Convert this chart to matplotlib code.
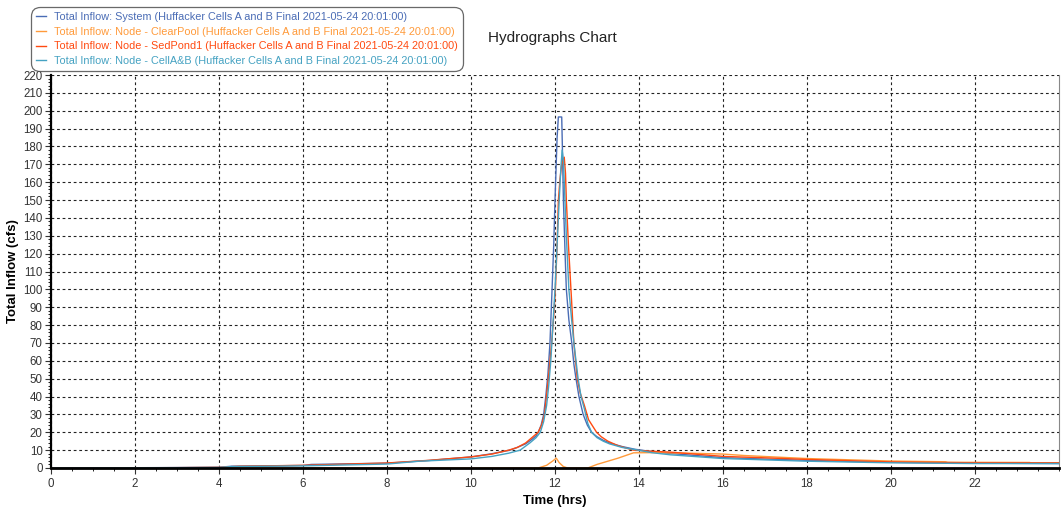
import matplotlib
matplotlib.use("Agg")
import matplotlib.pyplot as plt
from matplotlib.ticker import MultipleLocator

plt.rcParams['font.family'] = ['Liberation Sans', 'DejaVu Sans']

# ---- data ----
t_system = [0, 2.5, 4.0, 4.3, 6.0, 6.2, 8.0, 9.0, 10.0, 10.5, 10.93, 11.1, 11.3, 11.45, 11.55,
            11.6, 11.67, 11.73, 11.78, 11.83, 11.88, 11.93, 11.97, 12.0, 12.05, 12.08, 12.16,
            12.18, 12.2, 12.24, 12.27, 12.33, 12.4, 12.45, 12.5, 12.57, 12.67, 12.77, 12.87,
            13.0, 13.15, 13.3, 13.6, 13.9, 14.3, 14.7, 16, 17, 18, 19, 20, 21, 22, 24]
q_system = [0, 0.2, 0.4, 1.0, 1.4, 2.0, 2.7, 4.2, 6.2, 8.0, 10, 11.5, 13.5, 16, 18,
            20, 24, 30, 40, 52, 70, 100, 125, 150, 185, 196.5, 196.5,
            175, 150, 120, 100, 83, 70, 58, 50, 40, 30, 24, 20,
            17.5, 15.5, 14, 12, 10.5, 9.2, 8.2, 5.8, 5.0, 4.3, 3.7, 3.2, 2.9, 2.7, 2.5]

t_clearpool = [0, 11.6, 11.8, 11.95, 12.03, 12.1, 12.2, 12.3, 12.78, 13.0, 13.5, 13.87, 14.3,
               15.2, 16, 16.5, 18, 19, 20, 21.3, 21.35, 23.3, 23.35, 24]
q_clearpool = [0, 0, 1.5, 4.0, 5.5, 3.0, 0.8, 0, 0, 2.0, 5.5, 8.5, 8.6,
               8.3, 7.8, 7.0, 5.3, 4.6, 3.9, 3.5, 3.2, 3.1, 2.8, 2.8]

t_sedpond = [0, 3.0, 4.0, 4.5, 6.0, 8.0, 9.0, 10.0, 10.5, 10.9, 11.1, 11.3, 11.45, 11.6, 11.68,
             11.75, 11.82, 11.87, 11.92, 11.97, 12.01, 12.05, 12.08, 12.12, 12.16, 12.22, 12.25,
             12.27, 12.32, 12.38, 12.45, 12.53, 12.6, 12.7, 12.8, 12.99, 13.1, 13.26, 13.5, 13.86,
             14.2, 14.74, 16, 17, 18, 20, 22, 24]
q_sedpond = [0, 0.2, 0.4, 1.0, 1.5, 2.8, 4.3, 6.2, 7.8, 10, 11.5, 14, 17, 20, 24,
             30, 45, 57, 70, 85, 100, 125, 150, 162, 170, 174, 165,
             150, 125, 100, 70, 50, 42, 35, 27, 20, 17.5, 15, 12.5, 10,
             9.5, 8.9, 6.5, 5.7, 4.8, 3.4, 2.9, 2.9]

t_cellab = [0, 2.5, 4.0, 4.3, 6.0, 8.0, 8.76, 10.0, 10.5, 10.9, 11.17, 11.4, 11.55, 11.65, 11.73,
            11.8, 11.85, 11.9, 11.95, 12.0, 12.05, 12.1, 12.14, 12.17, 12.2, 12.22, 12.27, 12.33,
            12.4, 12.45, 12.55, 12.62, 12.7, 12.78, 12.87, 13.0, 13.15, 13.3, 13.6, 13.98,
            14.3, 14.74, 16, 18, 20, 22, 24]
q_cellab = [0, 0.1, 0.3, 0.8, 1.2, 2.2, 3.8, 5.1, 6.5, 8.3, 10, 14, 17, 20, 26,
            35, 46, 60, 80, 100, 125, 150, 168, 178, 172, 160, 130, 100,
            82, 70, 50, 40, 33, 25, 20, 17, 15, 13.5, 11.5, 10,
            8.6, 7.4, 5.3, 3.8, 2.9, 2.5, 2.5]

labels = [
    "Total Inflow: System (Huffacker Cells A and B Final 2021-05-24 20:01:00)",
    "Total Inflow: Node - ClearPool (Huffacker Cells A and B Final 2021-05-24 20:01:00)",
    "Total Inflow: Node - SedPond1 (Huffacker Cells A and B Final 2021-05-24 20:01:00)",
    "Total Inflow: Node - CellA&B (Huffacker Cells A and B Final 2021-05-24 20:01:00)",
]
colors = ['#4a6cb5', '#ff9a3a', '#ff4a10', '#45a2c2']

x_ticks = [0, 2, 4, 6, 8, 10, 12, 14, 16, 18, 20, 22]
y_ticks = list(range(0, 221, 10))

fig = plt.figure(figsize=(10.62, 5.09), dpi=100)
ax = fig.add_axes([51/1062, 1 - 468/509, (1059 - 51)/1062, (468 - 75)/509])

series = [(t_system, q_system), (t_clearpool, q_clearpool),
          (t_sedpond, q_sedpond), (t_cellab, q_cellab)]
handles = []
for (t, q), c, lab in zip(series, colors, labels):
    h, = ax.plot(t, q, color=c, lw=1.0, label=lab)
    handles.append(h)

ax.set_xlim(0, 24)
ax.set_ylim(0, 220)
ax.set_xticks(x_ticks)
ax.set_yticks(y_ticks)
ax.xaxis.set_minor_locator(MultipleLocator(0.5))
ax.yaxis.set_minor_locator(MultipleLocator(2))
ax.tick_params(axis='both', labelsize=8.3, colors='#333333', length=4, width=0.8)
ax.tick_params(axis='both', which='minor', length=2, width=0.6)
ax.tick_params(axis='x', pad=3)
ax.tick_params(axis='y', pad=2)

ax.grid(True, which='major', color='#222222', linestyle=(0, (2.5, 2.5)), linewidth=0.8)
ax.set_axisbelow(True)

ax.spines['top'].set_visible(False)
ax.spines['right'].set_color('#888888')
ax.spines['right'].set_linewidth(0.8)
ax.spines['left'].set_color('black')
ax.spines['left'].set_linewidth(1.6)
ax.spines['bottom'].set_color('black')
ax.spines['bottom'].set_linewidth(2.0)

ax.set_xlabel('Time (hrs)', fontsize=9.5, fontweight='bold', labelpad=4)
ax.set_ylabel('Total Inflow (cfs)', fontsize=9.5, fontweight='bold', labelpad=3)

fig.text(488/1062, 1 - 38/509, 'Hydrographs Chart', fontsize=11, ha='left', va='center',
         color='#222222')

leg = fig.legend(handles=handles, loc='upper left', bbox_to_anchor=(33/1062, 1 - 9/509),
                 fontsize=7.85, frameon=True, handlelength=0.9, handletextpad=0.7,
                 labelspacing=0.42, borderpad=0.3, borderaxespad=0, fancybox=True,
                 edgecolor='#444444')
leg.get_frame().set_linewidth(0.9)
leg.get_frame().set_boxstyle('round', pad=0.2, rounding_size=0.8)
for txt, c in zip(leg.get_texts(), colors):
    txt.set_color(c)

fig.savefig('out.png', dpi=100)
